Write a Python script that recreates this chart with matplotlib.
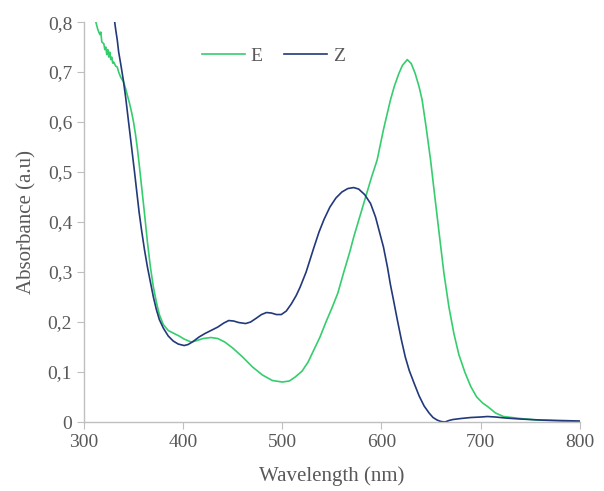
import numpy as np
import matplotlib
matplotlib.use("Agg")
import matplotlib.pyplot as plt

# E isomer spectrum (wavelength nm, absorbance)
e_nm = [312, 314, 316, 317, 318, 320, 321, 322, 323, 324, 325, 326, 327, 328,
        329, 330, 332, 333.6, 335, 337, 340, 342, 344, 346, 348, 350, 352,
        354, 356, 358, 361, 364, 367, 370, 373, 376, 380, 385, 391, 396, 401, 408,
        414, 420, 428, 435, 442, 450, 460, 470, 480, 490, 500, 507, 513, 520,
        526, 532, 538, 544, 550, 556, 562, 568, 572, 578, 584, 590, 595.6, 602,
        609, 613, 617.5, 621, 626, 630, 634, 638, 641, 645, 649.5, 653, 658,
        663, 668, 673, 678, 684, 690, 696, 702, 707, 715, 723, 740, 757, 780, 800]
e_abs = [0.80, 0.785, 0.775, 0.78, 0.76, 0.757, 0.745, 0.75, 0.735, 0.745, 0.73,
         0.74, 0.725, 0.73, 0.718, 0.72, 0.712, 0.71, 0.70, 0.69, 0.68, 0.667,
         0.652, 0.637, 0.62, 0.60, 0.575, 0.545, 0.51, 0.473, 0.418, 0.36, 0.31,
         0.27, 0.24, 0.215, 0.195, 0.183, 0.177, 0.172, 0.166, 0.16, 0.163, 0.167,
         0.169, 0.167, 0.16, 0.148, 0.13, 0.11, 0.094, 0.083, 0.08, 0.082, 0.09,
         0.102, 0.12, 0.145, 0.17, 0.20, 0.228, 0.258, 0.30, 0.34, 0.37, 0.41,
         0.45, 0.49, 0.524, 0.585, 0.644, 0.672, 0.697, 0.713, 0.725, 0.717,
         0.697, 0.67, 0.644, 0.59, 0.524, 0.464, 0.38, 0.297, 0.23, 0.177, 0.135,
         0.10, 0.071, 0.05, 0.038, 0.031, 0.018, 0.011, 0.007, 0.004, 0.002, 0.0]

# Z isomer spectrum
z_nm = [331, 332, 333.6, 335, 337, 339.7, 342, 345, 348, 351, 353, 355.6, 358,
        361, 364, 367, 370, 373, 376, 380, 385, 390, 395, 401, 405, 410, 416,
        422, 428, 435, 441, 446, 451, 456, 463, 468, 474, 479, 484, 489, 494,
        499, 504, 509, 514, 518, 524, 528, 532, 537, 542, 548, 554, 560, 566,
        572, 577, 583, 589, 594, 598, 602, 606, 609, 612, 616, 620, 624, 628,
        633, 638, 643, 648, 652, 656, 660, 664, 668, 672, 680, 690, 700, 707,
        715, 725, 740, 760, 780, 800]
z_abs = [0.80, 0.785, 0.764, 0.74, 0.717, 0.684, 0.65, 0.60, 0.55, 0.50, 0.465,
         0.42, 0.385, 0.345, 0.31, 0.28, 0.25, 0.225, 0.205, 0.188, 0.172, 0.162,
         0.156, 0.153, 0.155, 0.161, 0.17, 0.177, 0.183, 0.19, 0.198, 0.203,
         0.202, 0.199, 0.197, 0.20, 0.208, 0.215, 0.219, 0.218, 0.215, 0.215,
         0.222, 0.236, 0.253, 0.27, 0.30, 0.325, 0.35, 0.38, 0.405, 0.43, 0.448,
         0.46, 0.467, 0.469, 0.466, 0.455, 0.437, 0.41, 0.38, 0.35, 0.31, 0.275,
         0.245, 0.204, 0.165, 0.13, 0.103, 0.077, 0.052, 0.032, 0.018, 0.009,
         0.004, 0.001, 0.0, 0.003, 0.005, 0.007, 0.009, 0.01, 0.011, 0.01, 0.008,
         0.006, 0.004, 0.003, 0.002]

x_ticks = [300, 400, 500, 600, 700, 800]
y_ticks = [0, 0.1, 0.2, 0.3, 0.4, 0.5, 0.6, 0.7, 0.8]
y_labels = ["0", "0,1", "0,2", "0,3", "0,4", "0,5", "0,6", "0,7", "0,8"]

plt.rcParams["font.family"] = ["Liberation Serif", "DejaVu Serif"]
text_col = "#595959"
axis_col = "#bfbfbf"

fig = plt.figure(figsize=(6.04, 4.91), dpi=100)
ax = fig.add_axes([0.139, 0.1405, 0.821, 0.8145])

ax.plot(e_nm, e_abs, color="#36cd6e", lw=1.2, label="E")
ax.plot(z_nm, z_abs, color="#22397a", lw=1.2, label="Z")

ax.set_xlim(300, 800)
ax.set_ylim(0, 0.8)
ax.set_xticks(x_ticks)
ax.set_yticks(y_ticks)
ax.set_yticklabels(y_labels)

for s in ["top", "right"]:
    ax.spines[s].set_visible(False)
for s in ["left", "bottom"]:
    ax.spines[s].set_color(axis_col)
    ax.spines[s].set_linewidth(1.0)
ax.tick_params(colors=axis_col, labelcolor=text_col, labelsize=14,
               length=5, direction="out")

ax.set_xlabel("Wavelength (nm)", fontsize=15, color=text_col, labelpad=11)
ax.set_ylabel("Absorbance (a.u)", fontsize=15, color=text_col, labelpad=8)

leg = ax.legend(loc="center", bbox_to_anchor=(0.382, 0.915), ncol=2,
                frameon=False, fontsize=14, handlelength=2.2,
                columnspacing=1.1, handletextpad=0.3)
for t in leg.get_texts():
    t.set_color(text_col)

fig.savefig("out.png", dpi=100)
